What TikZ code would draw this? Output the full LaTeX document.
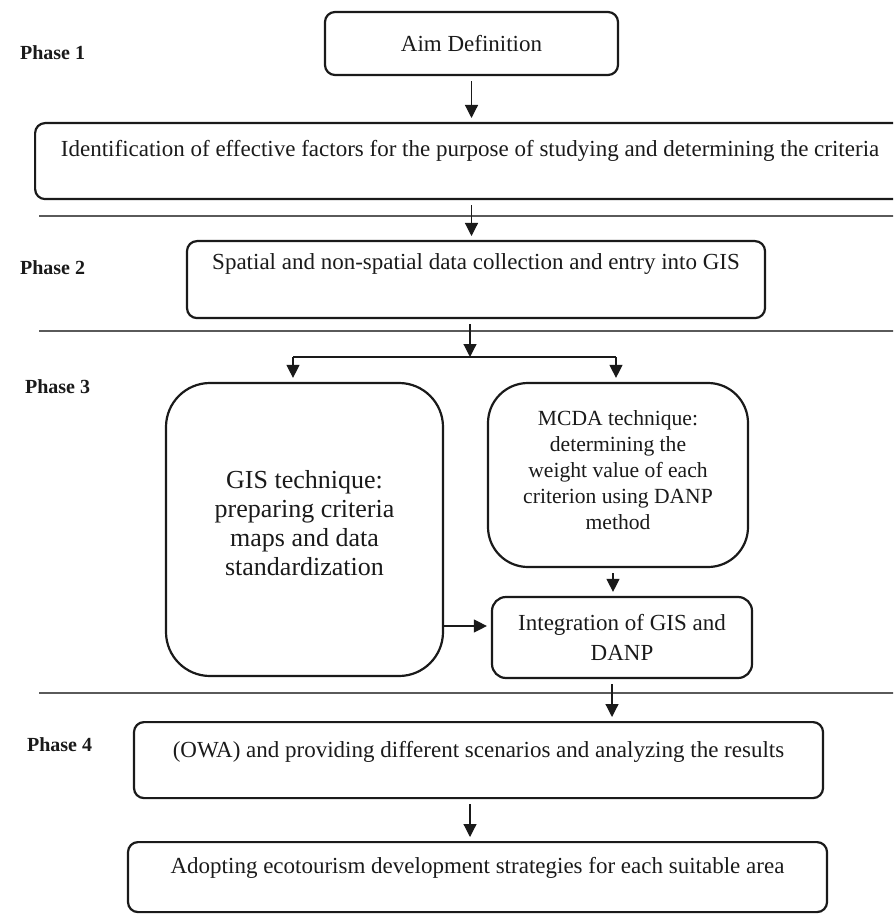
\documentclass[tikz,border=0pt]{standalone}
\usepackage{fontspec}
\setmainfont{Liberation Serif}
\usepackage{tikz}
\usetikzlibrary{arrows.meta,calc,positioning}
\definecolor{ink}{HTML}{1A1A1A}
\definecolor{rule}{HTML}{5A5A5A}
\newcommand{\bodysize}{\fontsize{11.5}{15}\selectfont}
\newcommand{\gissize}{\fontsize{13}{14.5}\selectfont}
\newcommand{\mcdasize}{\fontsize{10.8}{13}\selectfont}
\tikzset{
  stage/.style={draw=ink,line width=1.1pt,rounded corners=5pt,inner sep=0pt,font=\bodysize,text=ink},
  phase/.style={anchor=west,font=\bfseries\fontsize{10}{12}\selectfont,text=ink},
  divider/.style={draw=rule,line width=.55pt},
  flow/.style={-{Triangle[length=6.5pt,width=6.5pt]},draw=ink,line width=.6pt,shorten <=2.5pt,shorten >=2pt}
}

\begin{document}
\begin{tikzpicture}[x=.5pt,y=-.5pt]
  \useasboundingbox (0,0) rectangle (893,914);
  \clip (0,0) rectangle (893,914);
  % phase labels
  \node[phase] (p1) at (13,53) {Phase 1};
  \node[phase] (p2) at (13,268) {Phase 2};
  \node[phase] (p3) at (18,387) {Phase 3};
  \node[phase] (p4) at (20,745) {Phase 4};
  % separators
  \draw[divider] (39,216)--(900,216);
  \draw[divider] (39,331)--(900,331);
  \draw[divider] (39,693)--(900,693);
  % boxes
  \node[stage,minimum width=146.5pt,minimum height=31.5pt] (aim) at (471.5,43.5) {Aim Definition};
  \node[stage,anchor=north west,minimum width=460pt,text height=16.5pt,text depth=21.5pt] (ident) at (34,122)
    {Identification of effective factors for the purpose of studying and determining the criteria\hspace*{25pt}};
  \node[stage,anchor=north,minimum width=289pt,text height=14pt,text depth=24.5pt] (spatial) at (476,240)
    {Spatial and non-spatial data collection and entry into GIS};
  \node[stage,rounded corners=22pt,minimum width=138.5pt,minimum height=146.5pt,align=center,font=\gissize,text depth=7pt] (gis) at (304.5,529.5)
    {GIS technique:\\preparing criteria\\maps and data\\standardization};
  \node[stage,rounded corners=20pt,minimum width=130pt,minimum height=92pt,align=center,font=\mcdasize,text depth=5pt] (mcda) at (618,475)
    {MCDA technique:\\determining the\\weight value of each\\criterion using DANP\\method};
  \node[stage,rounded corners=7pt,minimum width=130pt,minimum height=40.5pt,align=center] (integ) at (622,637.5)
    {Integration of GIS and\\DANP};
  \node[stage,anchor=north,minimum width=344.5pt,text height=17.5pt,text depth=20.5pt] (owa) at (478.5,721)
    {(OWA) and providing different scenarios and analyzing the results};
  \node[stage,anchor=north,minimum width=349.5pt,text height=15.5pt,text depth=19.5pt] (adopt) at (477.5,841)
    {Adopting ecotourism development strategies for each suitable area};
  % connectors
  \coordinate (split) at (470,357);
  \coordinate (splitL) at (293,357);
  \coordinate (splitR) at (616,357);
  \draw[flow] (aim.south) -- (aim.south |- ident.north);
  \draw[flow] (ident.south -| aim.south) -- (aim.south |- spatial.north);
  \draw[flow,shorten >=0pt] (spatial.south -| split) -- (split);
  \draw[ink,line width=.6pt] (splitL) -- (splitR);
  \draw[flow,shorten <=0pt] (splitL) -- (splitL |- gis.north);
  \draw[flow,shorten <=0pt] (splitR) -- (splitR |- mcda.north);
  \draw[flow] ([xshift=-2.5pt]mcda.south) -- ([xshift=-2.5pt]mcda.south |- integ.north);
  \draw[flow,shorten <=0pt] ([yshift=5.75pt]integ.west -| gis.east) -- ([yshift=5.75pt]integ.west);
  \draw[flow] ([xshift=-5pt]integ.south) -- ([xshift=-5pt]integ.south |- owa.north);
  \draw[flow] (owa.south -| split) -- (split |- adopt.north);
\end{tikzpicture}
\end{document}
